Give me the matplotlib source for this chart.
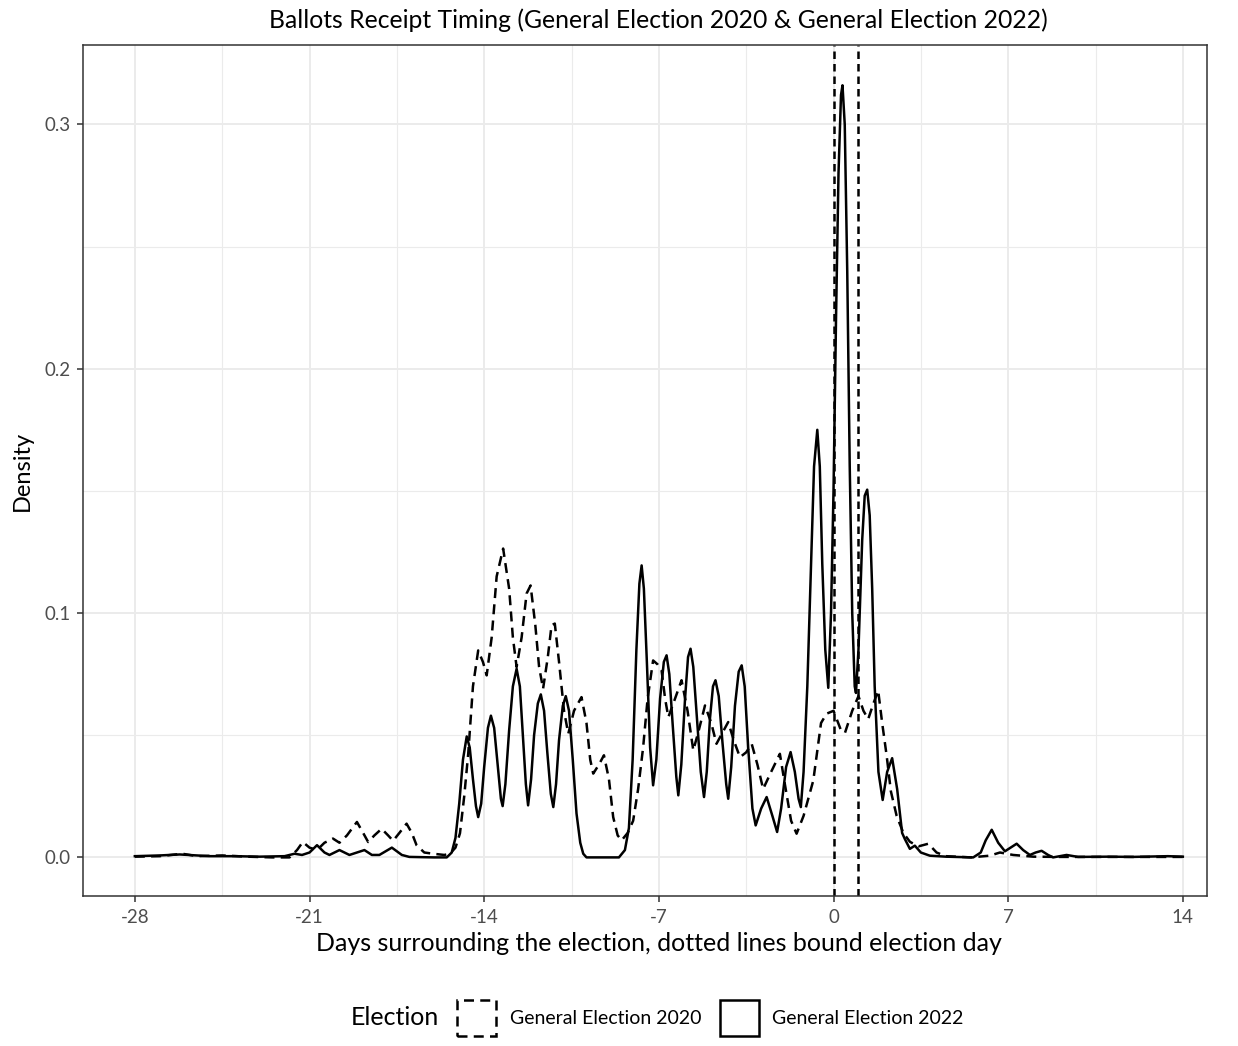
import numpy as np
import matplotlib
matplotlib.use("Agg")
import matplotlib.pyplot as plt
from matplotlib.patches import Patch

plt.rcParams['font.family'] = ['Lato', 'DejaVu Sans']
plt.rcParams['axes.unicode_minus'] = False

# dias respecto a la eleccion y densidad, 2022 (linea continua)
dias_2022 = [-28.0, -27.0, -26.2, -25.0, -24.0, -23.0, -22.0, -21.6, -21.3, -21.0,
             -20.7, -20.4, -20.2, -19.8, -19.4, -19.1, -18.8, -18.5, -18.2, -17.7,
             -17.3, -17.0, -16.0, -15.5,
             -15.3, -15.15, -15.0, -14.85, -14.7, -14.58, -14.45, -14.33, -14.24, -14.12,
             -14.0, -13.85, -13.73, -13.6, -13.45, -13.33, -13.26, -13.15, -13.0, -12.85,
             -12.7, -12.57, -12.45, -12.33, -12.24, -12.12, -12.0, -11.85, -11.73, -11.6,
             -11.47, -11.33, -11.23, -11.12, -11.0, -10.85, -10.73, -10.6, -10.45, -10.3,
             -10.15, -10.03, -9.9, -8.6, -8.36,
             -8.2, -8.05, -7.9, -7.78, -7.69, -7.6, -7.48, -7.35,
             -7.23, -7.1, -6.95, -6.8, -6.69, -6.58, -6.45, -6.3, -6.22, -6.1,
             -5.95, -5.83, -5.73, -5.62, -5.48, -5.32, -5.19, -5.08, -4.95, -4.83,
             -4.73, -4.6, -4.45, -4.3, -4.22, -4.1, -3.95, -3.8, -3.68, -3.56,
             -3.42, -3.25, -3.12, -2.9, -2.68, -2.45, -2.26, -2.1, -1.9, -1.72,
             -1.55, -1.4, -1.31, -1.2, -1.05,
             -0.9, -0.78, -0.65, -0.55, -0.45, -0.33, -0.21, -0.1, 0.0, 0.1,
             0.2, 0.3, 0.36, 0.45, 0.55, 0.65, 0.75, 0.85, 0.9, 1.0,
             1.15, 1.25, 1.35, 1.45, 1.55, 1.65, 1.8, 1.97, 2.15, 2.35,
             2.55, 2.75, 2.86, 3.06, 3.26, 3.5, 3.86, 4.5, 5.6, 5.9,
             6.1, 6.34, 6.6, 6.87, 7.1, 7.34, 7.6, 7.87, 8.1, 8.34,
             8.6, 8.8, 9.34, 9.8, 11.0, 12.0, 13.4, 14.0]
dens_2022 = [0.0005, 0.0008, 0.0012, 0.0005, 0.0005, 0.0003, 0.0005, 0.0015, 0.001, 0.002,
             0.005, 0.002, 0.001, 0.003, 0.001, 0.002, 0.003, 0.001, 0.001, 0.004,
             0.001, 0.0002, 0.0, 0.0,
             0.002, 0.008, 0.022, 0.04, 0.0495, 0.045, 0.032, 0.021, 0.0165, 0.022,
             0.037, 0.053, 0.058, 0.053, 0.037, 0.024, 0.021, 0.03, 0.052, 0.07,
             0.0772, 0.07, 0.05, 0.03, 0.0213, 0.032, 0.05, 0.063, 0.0667, 0.06,
             0.043, 0.026, 0.0206, 0.03, 0.048, 0.062, 0.066, 0.06, 0.04, 0.018,
             0.006, 0.0015, 0.0, 0.0, 0.003,
             0.012, 0.04, 0.085, 0.112, 0.1195, 0.11, 0.08, 0.045,
             0.0295, 0.04, 0.065, 0.08, 0.0827, 0.075, 0.055, 0.033, 0.0254, 0.038,
             0.065, 0.082, 0.0854, 0.078, 0.058, 0.035, 0.0247, 0.035, 0.057, 0.07,
             0.0725, 0.066, 0.047, 0.03, 0.024, 0.037, 0.062, 0.076, 0.0786, 0.07,
             0.045, 0.02, 0.0131, 0.02, 0.0247, 0.017, 0.0104, 0.02, 0.037, 0.0431,
             0.035, 0.024, 0.0206, 0.035, 0.07,
             0.12, 0.16, 0.175, 0.16, 0.12, 0.085, 0.0694, 0.1, 0.15, 0.22,
             0.28, 0.312, 0.316, 0.3, 0.24, 0.16, 0.1, 0.07, 0.0673, 0.085,
             0.13, 0.148, 0.1505, 0.14, 0.11, 0.07, 0.035, 0.0235, 0.035, 0.0406,
             0.028, 0.01, 0.0075, 0.0035, 0.0048, 0.002, 0.0007, 0.0003, 0.0, 0.002,
             0.007, 0.0113, 0.006, 0.0025, 0.004, 0.0056, 0.003, 0.001, 0.002, 0.0027,
             0.001, 0.0, 0.001, 0.0002, 0.0003, 0.0002, 0.0005, 0.0003]

# 2020 (linea discontinua)
dias_2020 = [-28.0, -27.0, -26.1, -25.5, -24.5, -23.5, -22.5, -21.8, -21.5, -21.27,
             -21.0, -20.7, -20.4, -20.06, -19.8, -19.5, -19.1, -18.85, -18.65, -18.4,
             -18.11, -17.85, -17.65, -17.4, -17.11, -16.9, -16.71, -16.4, -16.04, -15.6,
             -15.37, -15.15, -14.97, -14.8, -14.64, -14.45, -14.24, -14.05, -13.9, -13.7,
             -13.5, -13.24, -13.0, -12.85, -12.7, -12.5, -12.3, -12.14, -11.95, -11.8,
             -11.64, -11.45, -11.3, -11.17, -11.0, -10.8, -10.63, -10.4, -10.1, -9.9,
             -9.75, -9.63, -9.4, -9.2, -9.0, -8.83, -8.65, -8.49, -8.25, -8.03,
             -7.83, -7.63, -7.45, -7.23, -7.05, -6.89, -6.75, -6.62, -6.35, -6.09,
             -5.85, -5.62, -5.4, -5.15, -4.9, -4.69, -4.45, -4.22, -4.0, -3.75,
             -3.5, -3.28, -3.05, -2.82, -2.5, -2.15, -1.95, -1.7, -1.48, -1.2,
             -0.81, -0.5, -0.28, 0.0, 0.3, 0.46, 0.75, 1.0, 1.2, 1.39,
             1.6, 1.79, 1.95, 2.13, 2.3, 2.53, 2.8, 3.06, 3.4, 3.8,
             4.13, 4.5, 5.5, 6.26, 6.67, 7.2, 8.0, 9.0, 11.0, 14.0]
dens_2020 = [0.0003, 0.0005, 0.0015, 0.0005, 0.0008, 0.0003, 0.0, 0.0, 0.003, 0.0063,
             0.004, 0.003, 0.006, 0.0077, 0.006, 0.009, 0.0145, 0.01, 0.0063, 0.009,
             0.0117, 0.009, 0.0068, 0.01, 0.0138, 0.01, 0.005, 0.002, 0.0015, 0.001,
             0.0015, 0.004, 0.0099, 0.025, 0.0424, 0.07, 0.0847, 0.08, 0.0745, 0.09,
             0.115, 0.1264, 0.11, 0.09, 0.0779, 0.09, 0.108, 0.1113, 0.095, 0.078,
             0.069, 0.082, 0.095, 0.0957, 0.08, 0.06, 0.0506, 0.06, 0.0656, 0.055,
             0.04, 0.0343, 0.038, 0.0418, 0.032, 0.0165, 0.009, 0.007, 0.01, 0.015,
             0.028, 0.045, 0.065, 0.0806, 0.079, 0.0765, 0.065, 0.0574, 0.065, 0.0725,
             0.06, 0.0438, 0.052, 0.0622, 0.055, 0.0465, 0.051, 0.0554, 0.048, 0.041,
             0.043, 0.0465, 0.038, 0.028, 0.035, 0.0424, 0.03, 0.015, 0.0097, 0.017,
             0.0315, 0.055, 0.0588, 0.06, 0.052, 0.051, 0.06, 0.066, 0.06, 0.0566,
             0.063, 0.0683, 0.055, 0.0416, 0.027, 0.017, 0.01, 0.0064, 0.0045, 0.0056,
             0.002, 0.0005, 0.0, 0.0007, 0.002, 0.001, 0.0003, 0.0002, 0.0002, 0.0002]

dia_eleccion = [0, 1]
x_ticks = [-28, -21, -14, -7, 0, 7, 14]
y_ticks = [0.0, 0.1, 0.2, 0.3]
etiquetas = ['General Election 2020', 'General Election 2022']

gris_texto = '#4D4D4D'
gris_borde = '#333333'
gris_grid = '#EBEBEB'

fig = plt.figure(figsize=(12.38, 10.46), dpi=100)
ax = fig.add_axes([0.067, 0.1434, 0.908, 0.8136])

ax.set_xticks(x_ticks)
ax.set_xticks([-24.5, -17.5, -10.5, -3.5, 3.5, 10.5], minor=True)
ax.set_yticks(y_ticks)
ax.set_yticks([0.05, 0.15, 0.25], minor=True)
ax.grid(which='major', color=gris_grid, linewidth=1.4)
ax.grid(which='minor', color=gris_grid, linewidth=0.8)
ax.set_axisbelow(True)

ax.plot(dias_2020, dens_2020, color='black', linewidth=1.8, linestyle=(0, (4, 2.5)),
        dash_joinstyle='round')
ax.plot(dias_2022, dens_2022, color='black', linewidth=1.8, solid_joinstyle='round')
for d in dia_eleccion:
    ax.axvline(d, color='black', linewidth=1.8, linestyle=(0, (3, 2)))

ax.set_xlim(-30.08, 14.97)
ax.set_ylim(-0.0158, 0.3325)
ax.set_yticklabels(['0.0', '0.1', '0.2', '0.3'])

for s in ax.spines.values():
    s.set_color(gris_borde)
    s.set_linewidth(1.1)
ax.tick_params(which='major', length=4, width=1.1, color=gris_borde,
               labelcolor=gris_texto, labelsize=13.5, pad=5)
ax.tick_params(which='minor', length=0)

ax.set_xlabel('Days surrounding the election, dotted lines bound election day',
              fontsize=18)
ax.xaxis.set_label_coords(0.5125, -0.056)
ax.xaxis.label.set_va('center')
ax.set_ylabel('Density', fontsize=17, labelpad=8)
fig.text(0.532, 0.981, 'Ballots Receipt Timing (General Election 2020 & General Election 2022)',
         ha='center', va='center', fontsize=17.8)

# leyenda con cajas como en ggplot
fig.text(0.283, 0.027, 'Election', ha='left', va='center', fontsize=18)
handles = [Patch(facecolor='none', edgecolor='black', linewidth=1.8, linestyle=(0, (4, 2.5))),
           Patch(facecolor='none', edgecolor='black', linewidth=1.8)]
fig.legend(handles, etiquetas, loc='center left', bbox_to_anchor=(0.3615, 0.027), ncol=2,
           frameon=False, fontsize=14, handlelength=2.0, handleheight=2.5,
           handletextpad=0.7, columnspacing=0.95, borderpad=0)

fig.savefig('out.png', dpi=100)
